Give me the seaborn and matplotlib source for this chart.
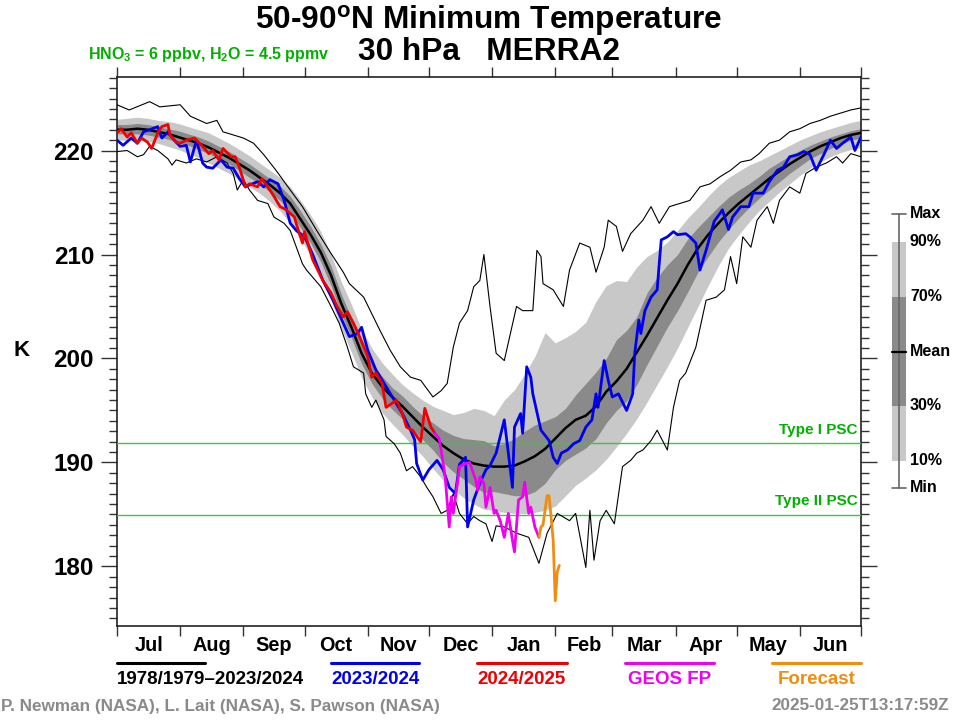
import numpy as np
import matplotlib
matplotlib.use('Agg')
import matplotlib.pyplot as plt
import seaborn as sns
from matplotlib.lines import Line2D
from matplotlib.patches import Rectangle

# ---------------- data (day of season, Jul 1 = 0) ----------------
clim_days = list(range(0, 366, 5))
clim_mean = [222.0, 222.0, 222.1, 222.0, 221.8, 221.6, 221.3, 221.0, 220.7, 220.3,
             219.8, 219.3, 218.7, 218.1, 217.4, 216.7, 215.9, 214.9, 213.4, 211.9,
             210.2, 208.0, 205.3, 203.0, 200.5, 198.6, 197.3, 196.3, 195.4, 194.4,
             193.4, 192.5, 191.6, 190.9, 190.3, 189.9, 189.7, 189.6, 189.6, 189.7,
             190.1, 190.6, 191.3, 192.3, 193.3, 194.1, 194.5, 195.4, 196.8, 197.8,
             199.0, 200.6, 202.2, 203.9, 205.6, 207.2, 209.0, 210.6, 211.9, 213.0,
             214.0, 214.9, 215.7, 216.5, 217.3, 218.0, 218.7, 219.3, 219.9, 220.4,
             220.8, 221.2, 221.5, 221.7]
clim_p90 = [223.0, 223.1, 223.2, 223.1, 222.9, 222.8, 222.6, 222.3, 222.0, 221.7,
            221.2, 220.7, 220.1, 219.5, 218.8, 218.1, 217.4, 216.5, 215.2, 213.8,
            212.2, 210.0, 207.4, 205.2, 202.8, 201.0, 199.6, 198.5, 197.5, 196.7,
            196.0, 195.4, 195.0, 194.6, 194.8, 195.2, 195.0, 194.5, 196.0, 197.0,
            198.5, 200.2, 202.5, 201.5, 202.0, 202.6, 203.5, 205.5, 207.0, 207.5,
            207.4, 208.8, 209.8, 210.4, 211.2, 212.3, 213.5, 214.5, 215.6, 216.6,
            217.4, 218.0, 218.6, 219.0, 219.5, 220.0, 220.5, 221.0, 221.4, 221.8,
            222.1, 222.4, 222.7, 222.9]
clim_p70 = [222.5, 222.5, 222.6, 222.5, 222.3, 222.1, 221.9, 221.6, 221.3, 220.9,
            220.4, 219.9, 219.3, 218.7, 218.0, 217.3, 216.6, 215.6, 214.2, 212.7,
            211.0, 208.9, 206.2, 203.9, 201.5, 199.6, 198.3, 197.2, 196.4, 195.4,
            194.5, 193.8, 193.1, 192.6, 192.3, 192.2, 192.1, 191.6, 191.8, 192.3,
            193.0, 193.6, 194.0, 194.4, 195.2, 196.5, 197.6, 198.7, 200.0, 201.8,
            202.7, 204.0, 206.3, 207.8, 209.0, 210.0, 211.5, 212.6, 213.6, 214.6,
            215.5, 216.2, 216.8, 217.5, 218.3, 218.9, 219.5, 220.0, 220.5, 220.9,
            221.3, 221.6, 221.9, 222.1]
clim_p30 = [221.6, 221.6, 221.6, 221.5, 221.3, 221.1, 220.8, 220.5, 220.1, 219.7,
            219.2, 218.7, 218.1, 217.4, 216.8, 216.0, 215.2, 214.1, 212.6, 211.1,
            209.3, 207.0, 204.3, 202.0, 199.5, 197.6, 196.2, 195.1, 194.2, 193.2,
            192.2, 191.2, 190.0, 189.1, 188.4, 187.7, 187.1, 187.2, 187.0, 186.8,
            186.8, 187.2, 188.0, 189.3, 190.2, 190.8, 191.4, 192.3, 193.8, 195.0,
            195.9, 197.5, 199.4, 201.2, 203.0, 204.6, 206.4, 208.3, 209.8, 211.2,
            212.4, 213.5, 214.5, 215.4, 216.2, 217.0, 217.8, 218.5, 219.2, 219.7,
            220.2, 220.6, 221.0, 221.2]
clim_p10 = [221.0, 221.0, 221.0, 220.9, 220.7, 220.4, 220.1, 219.7, 219.3, 218.8,
            218.3, 217.8, 217.2, 216.5, 215.9, 215.1, 214.2, 213.0, 211.5, 209.9,
            208.0, 205.6, 202.9, 200.6, 198.2, 196.3, 194.8, 193.7, 192.7, 191.6,
            190.6, 189.4, 188.3, 187.4, 186.6, 186.0, 185.5, 185.4, 185.2, 185.1,
            185.1, 185.2, 185.4, 185.8, 186.8, 187.8, 188.5, 189.3, 190.3, 191.5,
            192.8, 194.2, 195.8, 197.5, 199.2, 201.0, 203.0, 205.0, 207.0, 208.9,
            210.6, 211.9, 213.1, 214.2, 215.1, 216.0, 216.8, 217.6, 218.3, 218.9,
            219.4, 219.8, 220.1, 220.3]

max_days = [0, 6, 16, 21, 31, 36, 44, 49, 52, 62, 67, 72, 78, 85, 91, 98, 105, 111, 114,
            121, 129, 134, 139, 144, 149, 155, 159, 162, 165, 168, 172, 175, 178, 180,
            183, 186, 190, 193, 196, 199, 204, 206, 208, 209, 214, 219, 222, 227, 232,
            235, 239, 241, 245, 248, 252, 258, 262, 266, 271, 276, 281, 286, 291, 296,
            301, 306, 311, 315, 320, 325, 330, 335, 340, 345, 350, 355, 360, 365]
max_vals = [224.4, 223.9, 224.7, 224.2, 224.4, 223.3, 222.6, 222.9, 221.8, 221.2, 220.7,
            219.6, 218.1, 216.2, 214.6, 212.3, 210.1, 208.3, 207.2, 205.9, 202.7, 200.8,
            199.2, 198.2, 197.9, 196.3, 196.9, 197.6, 201.1, 203.4, 204.6, 206.9, 207.5,
            210.0, 205.0, 200.5, 199.8, 202.4, 205.0, 204.6, 204.6, 210.4, 209.8, 207.2,
            206.6, 205.0, 208.5, 211.1, 210.7, 208.3, 210.7, 213.3, 212.7, 210.3, 212.0,
            213.3, 214.6, 213.0, 214.6, 214.9, 215.2, 216.5, 216.8, 217.5, 218.1, 218.9,
            219.1, 219.7, 220.7, 221.0, 221.8, 222.1, 222.6, 222.9, 223.3, 223.6, 223.9,
            224.1]

min_days = [0, 5, 10, 13, 16, 20, 25, 27, 29, 34, 39, 44, 49, 54, 57, 59, 62, 65, 69, 74,
            77, 82, 85, 88, 91, 93, 100, 105, 109, 113, 116, 121, 122, 125, 127, 131, 132,
            136, 139, 142, 145, 149, 152, 155, 159, 162, 165, 168, 172, 175, 178, 181, 184,
            186, 190, 196, 202, 207, 211, 216, 222, 225, 230, 232, 234, 237, 240, 244, 248,
            252, 255, 258, 262, 265, 270, 273, 276, 279, 284, 289, 294, 298, 301, 304, 307,
            311, 314, 319, 322, 325, 330, 335, 338, 343, 348, 353, 356, 360, 365]
min_vals = [219.9, 220.0, 219.4, 219.6, 220.4, 220.0, 219.2, 218.6, 219.1, 218.8, 219.2,
            218.9, 219.4, 218.8, 217.8, 216.2, 217.2, 216.2, 215.2, 214.9, 213.6, 213.0,
            212.3, 210.7, 209.1, 208.5, 206.9, 205.0, 203.4, 201.1, 199.2, 198.6, 196.6,
            195.3, 196.0, 194.1, 192.5, 191.8, 190.9, 189.2, 189.6, 188.6, 187.6, 186.7,
            185.1, 185.4, 187.0, 185.1, 184.1, 184.8, 184.4, 184.1, 182.4, 183.9, 183.8,
            183.2, 182.8, 180.3, 183.2, 185.1, 184.4, 185.1, 179.9, 185.4, 180.6, 184.4,
            185.4, 184.1, 189.6, 190.2, 190.9, 191.2, 192.1, 193.1, 191.2, 195.3, 197.9,
            198.6, 201.1, 205.6, 205.9, 206.6, 209.8, 207.2, 211.7, 210.7, 213.3, 214.6,
            213.0, 215.2, 216.5, 215.9, 217.8, 218.4, 218.8, 219.4, 218.8, 219.7, 219.4]

y2324_days = [0, 3, 7, 10, 13, 16, 20, 22, 25, 28, 31, 34, 36, 39, 42, 44, 47, 51, 54, 57,
              60, 63, 65, 69, 72, 75, 79, 82, 85, 88, 92, 96, 101, 106, 111, 114, 118, 120,
              123, 127, 132, 136, 140, 144, 146, 147, 150, 153, 157, 160, 163, 166, 168,
              171, 172, 175, 178, 181, 183, 186, 190, 192, 194, 195, 198, 199, 201, 203,
              204, 208, 212, 214, 216, 218, 221, 224, 227, 230, 233, 235, 236, 239, 241,
              243, 246, 250, 253, 254, 256, 257, 259, 262, 265, 266, 267, 270, 273, 275,
              279, 281, 284, 286, 289, 293, 296, 297, 300, 302, 306, 310, 312, 317, 320,
              324, 327, 330, 334, 337, 340, 343, 347, 350, 353, 356, 360, 362, 365]
y2324_vals = [221.0, 220.5, 221.2, 220.7, 221.8, 222.0, 222.3, 221.2, 221.8, 221.0, 220.4,
              220.5, 218.9, 221.0, 218.8, 218.4, 218.3, 219.1, 218.4, 218.3, 217.3, 216.5,
              216.7, 217.0, 216.5, 217.2, 216.8, 215.2, 213.0, 212.3, 211.7, 210.0, 207.5,
              205.6, 203.4, 202.1, 202.4, 203.0, 200.8, 198.9, 197.3, 196.0, 194.7, 193.1,
              192.2, 189.9, 188.3, 189.3, 190.2, 189.3, 187.6, 187.0, 189.8, 190.5, 183.8,
              186.4, 188.0, 189.3, 189.7, 190.9, 194.1, 190.9, 187.6, 193.4, 194.7, 192.8,
              199.2, 198.2, 196.6, 193.1, 192.1, 190.5, 189.9, 190.9, 191.2, 191.8, 192.1,
              193.4, 194.1, 196.6, 195.3, 199.8, 197.9, 196.3, 196.6, 195.0, 196.6, 200.5,
              203.7, 202.4, 204.6, 205.9, 206.6, 209.1, 211.4, 211.7, 212.2, 211.9, 212.0,
              211.7, 211.1, 208.5, 210.4, 213.2, 214.0, 214.3, 212.4, 213.6, 214.6, 214.6,
              215.9, 215.9, 217.0, 218.1, 218.4, 219.4, 219.6, 219.9, 219.6, 218.1, 219.7,
              221.0, 220.2, 220.7, 221.3, 220.0, 221.3]

y2425_days = [0, 2, 5, 7, 10, 12, 15, 17, 20, 22, 25, 26, 29, 31, 34, 38, 42, 45, 47, 50,
              52, 56, 58, 60, 63, 65, 69, 71, 74, 77, 80, 83, 87, 89, 91, 92, 96, 101, 105,
              108, 111, 113, 116, 119, 123, 125, 127, 130, 132, 135, 137, 140, 142, 145,
              149, 151, 154, 156]
y2425_vals = [221.7, 222.1, 221.3, 221.7, 220.7, 221.2, 220.8, 220.2, 221.7, 222.3, 222.5,
              221.5, 220.8, 220.7, 221.0, 221.2, 220.4, 219.7, 220.0, 219.1, 220.2, 219.4,
              219.4, 218.4, 216.5, 216.8, 216.5, 217.3, 216.5, 215.6, 214.6, 214.3, 213.6,
              212.3, 211.1, 212.2, 209.5, 207.5, 206.3, 205.0, 204.0, 204.5, 203.4, 202.1,
              200.2, 198.2, 198.6, 197.6, 195.3, 195.7, 196.0, 194.7, 193.4, 193.1, 192.0,
              195.2, 193.4, 192.8]

geos_days = [156, 158, 159, 161, 163, 164, 165, 167, 168, 171, 173, 176, 177, 178, 180,
             181, 183, 185, 186, 188, 190, 192, 194, 195, 197, 199, 200, 202, 203, 205, 207]
geos_vals = [192.8, 192.3, 191.2, 188.6, 183.8, 186.7, 185.1, 188.0, 189.6, 189.9, 190.0,
             188.3, 187.3, 188.6, 188.0, 185.7, 187.6, 185.1, 185.4, 184.4, 182.8, 185.1,
             182.5, 181.4, 186.4, 186.7, 188.1, 185.1, 185.7, 183.8, 182.8]

fcst_days = [207, 208, 209, 211, 212, 214, 215, 216, 217]
fcst_vals = [182.8, 183.8, 184.0, 186.8, 186.8, 182.5, 176.7, 179.5, 180.1]

psc_type1 = 191.9
psc_type2 = 184.9

month_starts = [0, 31, 62, 92, 123, 153, 184, 215, 243, 274, 304, 335, 365]
month_labels = ['Jul', 'Aug', 'Sep', 'Oct', 'Nov', 'Dec', 'Jan', 'Feb', 'Mar', 'Apr',
                'May', 'Jun']
y_major = [180, 190, 200, 210, 220]

# ---------------- style ----------------
sns.set_style('ticks')
plt.rcParams['font.family'] = ['Liberation Sans', 'DejaVu Sans']
plt.rcParams['font.weight'] = 'bold'
plt.rcParams['text.color'] = 'black'
plt.rcParams['axes.labelcolor'] = 'black'
plt.rcParams['xtick.color'] = '#333333'
plt.rcParams['ytick.color'] = '#333333'
plt.rcParams['xtick.labelcolor'] = 'black'
plt.rcParams['ytick.labelcolor'] = 'black'
plt.rcParams['mathtext.fontset'] = 'custom'
plt.rcParams['mathtext.rm'] = 'Liberation Sans:bold'
plt.rcParams['mathtext.bf'] = 'Liberation Sans:bold'
plt.rcParams['mathtext.it'] = 'Liberation Sans:bold'
plt.rcParams['mathtext.default'] = 'rm'

LIGHT = '#c8c8c8'
DARK = '#8a8a8a'
BLUE = '#0000f0'
RED = '#f00000'
MAG = '#f000f0'
ORANGE = '#f08c10'
GREEN_LINE = '#33cc33'
GREEN_TXT = '#00b000'
GRAY_TXT = '#8a8a8a'

W, H = 960, 721
fig = plt.figure(figsize=(9.6, 7.21), dpi=100)


def fx(p):
    return p / W


def fy(p):
    return 1 - p / H


ax = fig.add_axes([fx(117), fy(625.7), fx(861) - fx(117), fy(76.7) - fy(625.7)])

ax.fill_between(clim_days, clim_p10, clim_p90, color=LIGHT, lw=0, zorder=1)
ax.fill_between(clim_days, clim_p30, clim_p70, color=DARK, lw=0, zorder=2)

ax.axhline(psc_type1, color=GREEN_LINE, lw=1.0, zorder=3)
ax.axhline(psc_type2, color=GREEN_LINE, lw=1.0, zorder=3)

sns.lineplot(x=max_days, y=max_vals, ax=ax, color='black', lw=0.8, estimator=None, sort=False, zorder=4)
sns.lineplot(x=min_days, y=min_vals, ax=ax, color='black', lw=0.8, estimator=None, sort=False, zorder=4)
sns.lineplot(x=clim_days, y=clim_mean, ax=ax, color='black', lw=1.8, estimator=None, sort=False, zorder=5)
sns.lineplot(x=y2324_days, y=y2324_vals, ax=ax, color=BLUE, lw=2.0, estimator=None, sort=False, zorder=6)
sns.lineplot(x=y2425_days, y=y2425_vals, ax=ax, color=RED, lw=2.0, estimator=None, sort=False, zorder=7)
sns.lineplot(x=geos_days, y=geos_vals, ax=ax, color=MAG, lw=2.0, estimator=None, sort=False, zorder=7)
sns.lineplot(x=fcst_days, y=fcst_vals, ax=ax, color=ORANGE, lw=2.0, estimator=None, sort=False, zorder=7)

ax.text(363.5, psc_type1 + 1.2, 'Type I PSC', ha='right', va='center', color=GREEN_TXT,
        fontsize=11, fontweight='bold', zorder=8)
ax.text(363.5, psc_type2 + 1.4, 'Type II PSC', ha='right', va='center', color=GREEN_TXT,
        fontsize=11, fontweight='bold', zorder=8)

ax.set_xlim(0, 365)
ax.set_ylim(174.3, 227.1)
ax.set_xlabel('')
ax.set_ylabel('')

mids = [(month_starts[i] + month_starts[i + 1]) / 2 for i in range(12)]
ax.set_xticks(month_starts)
ax.set_xticklabels([])
ax.set_xticks(mids, minor=True)
ax.set_xticklabels(month_labels, minor=True)
ax.tick_params(axis='x', which='major', direction='out', length=7.5, width=1.0,
               top=True, bottom=True, color='#333333')
ax.tick_params(axis='x', which='minor', length=0, pad=7.5, labelsize=14.3, top=False,
               bottom=True, labelcolor='black')
ax.set_yticks(y_major)
ax.set_yticks(np.arange(175, 228, 1), minor=True)
ax.tick_params(axis='y', which='major', direction='out', length=11.5, width=1.0,
               left=True, right=True, labelsize=17.5, pad=5, color='#333333',
               labelcolor='black')
ax.tick_params(axis='y', which='minor', direction='out', length=5.8, width=1.0,
               left=True, right=True, color='#333333')
for lab in ax.get_xticklabels(minor=True) + ax.get_yticklabels():
    lab.set_fontweight('bold')
for sp in ax.spines.values():
    sp.set_linewidth(1.2)
    sp.set_color('#222222')
    sp.set_visible(True)

# ---------------- titles ----------------
fig.text(fx(489), fy(28.5), '50-90$^{o}$N Minimum Temperature', ha='center', va='baseline',
         fontsize=22.8, fontweight='bold', color='black')
fig.text(fx(489), fy(59.5), '30 hPa   MERRA2', ha='center', va='baseline',
         fontsize=22.8, fontweight='bold', color='black')
fig.text(fx(88), fy(55), 'HNO$_3$ = 6 ppbv, H$_2$O = 4.5 ppmv', ha='left', va='center',
         fontsize=11.5, fontweight='bold', color=GREEN_TXT)
fig.text(fx(22), fy(350), 'K', ha='center', va='center', fontsize=16, fontweight='bold',
         color='black')

# ---------------- bottom legend ----------------
legend_items = [
    (117, 205, 'black', '1978/1979\u20132023/2024', 117, 'left'),
    (331, 419, BLUE, '2023/2024', 375, 'center'),
    (477, 567, RED, '2024/2025', 522, 'center'),
    (625, 714, MAG, 'GEOS FP', 670, 'center'),
    (772, 861, ORANGE, 'Forecast', 817, 'center'),
]
for x0, x1, col, lab, tx, ha in legend_items:
    fig.add_artist(Line2D([fx(x0), fx(x1)], [fy(663), fy(663)], transform=fig.transFigure,
                          color=col, lw=2.2))
    fig.text(fx(tx), fy(680), lab, ha=ha, va='center', fontsize=13.5, fontweight='bold',
             color=col)

fig.text(fx(1), fy(706), 'P. Newman (NASA), L. Lait (NASA), S. Pawson (NASA)', ha='left',
         va='center', fontsize=12.3, fontweight='bold', color=GRAY_TXT)
fig.text(fx(949), fy(706), '2025-01-25T13:17:59Z', ha='right', va='center', fontsize=12.3,
         fontweight='bold', color=GRAY_TXT)

# ---------------- right key ----------------
kx0, kx1 = 892, 906
kxc = (kx0 + kx1) / 2
fig.add_artist(Line2D([fx(kxc), fx(kxc)], [fy(214), fy(488)], transform=fig.transFigure,
                      color='#666666', lw=1.2))
for yy in (214, 488):
    fig.add_artist(Line2D([fx(kx0), fx(kx1)], [fy(yy), fy(yy)], transform=fig.transFigure,
                          color='#666666', lw=1.2))
fig.add_artist(Rectangle((fx(kx0), fy(460.7)), fx(kx1) - fx(kx0), fy(241.7) - fy(460.7),
                         transform=fig.transFigure, color=LIGHT, lw=0))
fig.add_artist(Rectangle((fx(kx0), fy(406)), fx(kx1) - fx(kx0), fy(296.7) - fy(406),
                         transform=fig.transFigure, color=DARK, lw=0))
fig.add_artist(Line2D([fx(kx0), fx(kx1)], [fy(351.7), fy(351.7)], transform=fig.transFigure,
                      color='black', lw=1.6))
for yy, lab in [(214, 'Max'), (241.7, '90%'), (296.7, '70%'), (351.7, 'Mean'),
                (406, '30%'), (460.7, '10%'), (488, 'Min')]:
    fig.text(fx(910), fy(yy), lab, ha='left', va='center', fontsize=11.5, fontweight='bold',
             color='black')

fig.savefig('out.png', dpi=100)
